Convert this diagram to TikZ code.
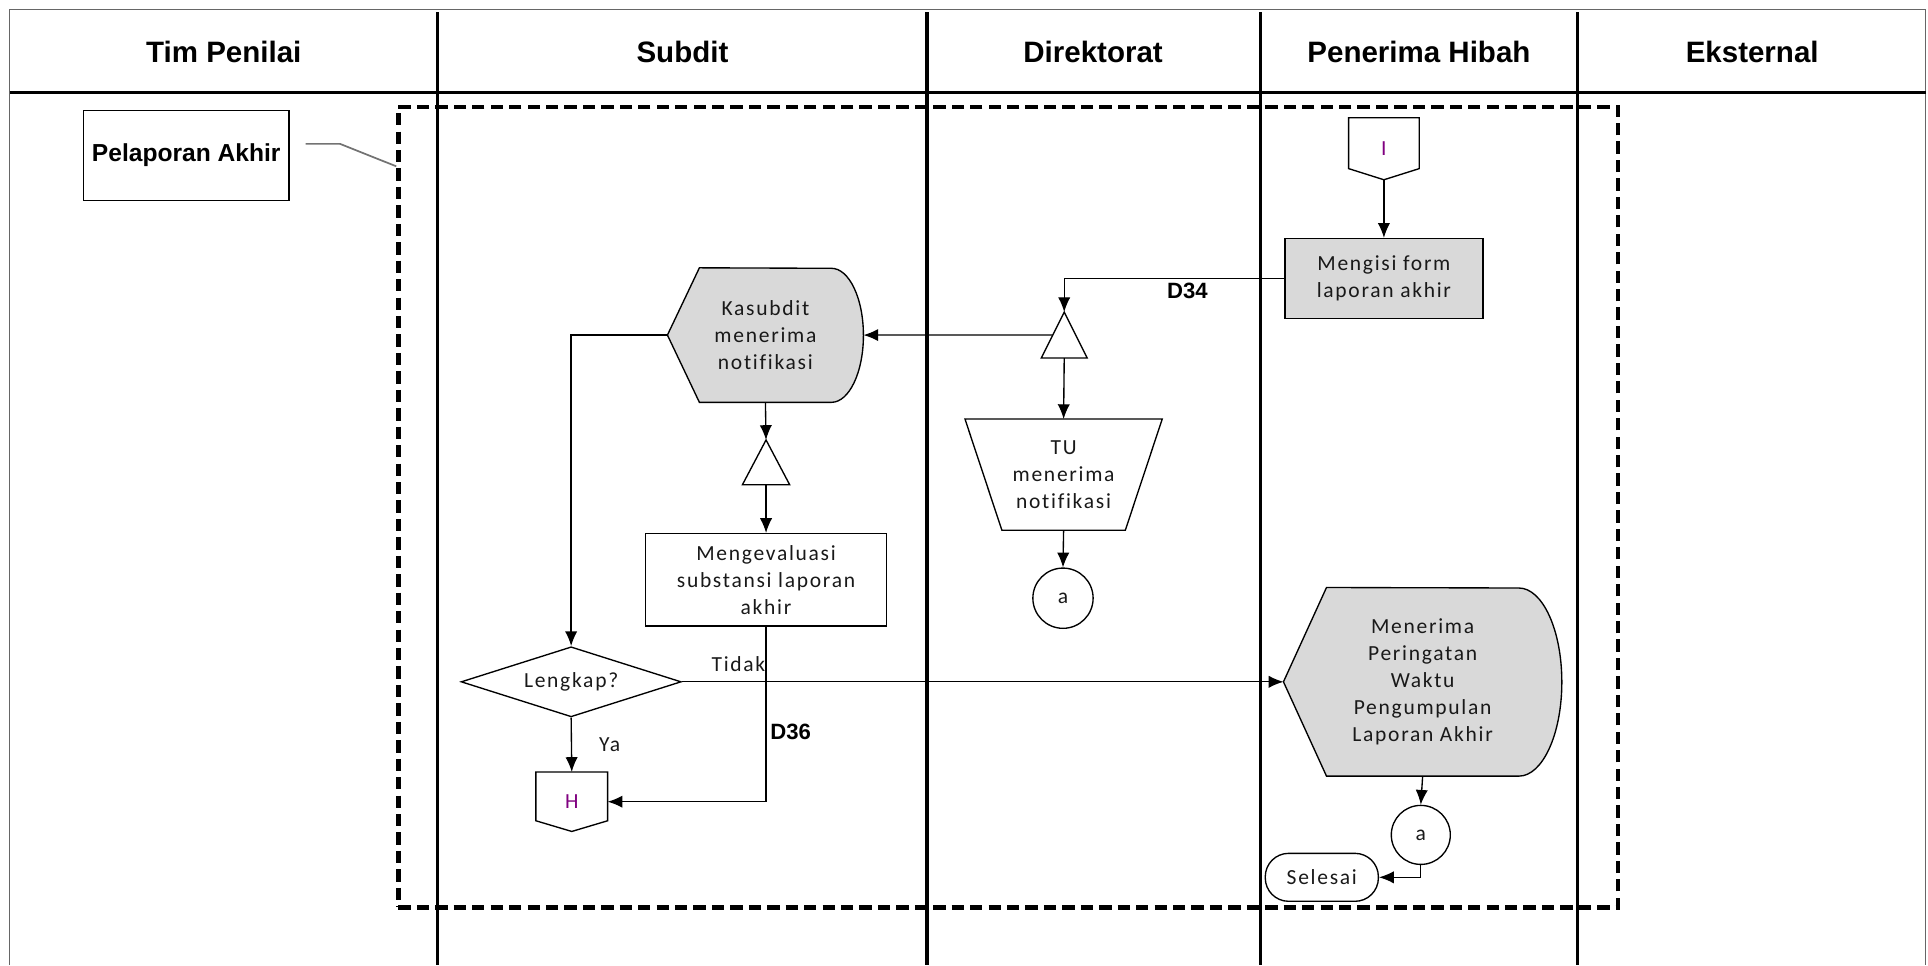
\documentclass[tikz,border=0pt]{standalone}
\usepackage{fontspec}
\newfontfamily\boxfont{Carlito}[LetterSpace=8, Ligatures=CommonOff]
\newfontfamily\hdrfont{Liberation Sans}
\usetikzlibrary{positioning, calc, shapes.geometric, arrows.meta, backgrounds}

\definecolor{boxgray}{HTML}{D9D9D9}

% outline helpers, drawn from the anchors of a plain node
\newcommand{\dispshape}[3]{%
  \filldraw[shapeline, fill=boxgray] ($(#1.north west)+(#2,0)$) -- (#1.west)
    -- ($(#1.south west)+(#2,0)$) -- ($(#1.south east)-(#2,0)$)
    arc[start angle=90, end angle=-90, x radius=#2, y radius=#3] -- cycle;}
\newcommand{\offpage}[1]{%
  \draw[shapeline] (#1.north west) -- (#1.north east)
    -- ($(#1.south east)!0.18!(#1.north east)$) -- (#1.south)
    -- ($(#1.south west)!0.18!(#1.north west)$) -- cycle;}
\newcommand{\mergetri}[1]{%
  \draw[shapeline] (#1.south west) -- (#1.north) -- (#1.south east) -- cycle;}
\newcommand{\manualop}[2]{%
  \draw[shapeline] (#1.north west) -- (#1.north east)
    -- ($(#1.south east)-(#2,0)$) -- ($(#1.south west)+(#2,0)$) -- cycle;}

\tikzset{
  lane/.style={line width=2.8pt},
  shapeline/.style={line width=1.1pt},
  hdr/.style={font=\hdrfont\bfseries\fontsize{24}{28}\selectfont},
  lbl/.style={font=\hdrfont\bfseries\fontsize{18}{20}\selectfont, inner sep=1pt},
  txt/.style={font=\boxfont\fontsize{17.5}{22}\selectfont, align=center, inner sep=0pt, text=black!90},
  proc/.style={txt, draw, line width=1.1pt},
  flow/.style={line width=1.1pt, ->},
}

\begin{document}
\begin{tikzpicture}[x=1pt, y=-1pt, >={Latex[length=12pt,width=10pt]}]
\useasboundingbox (0,0) rectangle (1568,785);

% swimlanes
\begin{scope}[on background layer]
  \draw[black!60, line width=1pt] (8,785) -- (8,8) -- (1566,8) -- (1566,785);
  \draw[lane] (8,75) -- (1566,75);
  \foreach \x in {356,754,1025,1283}
    \draw[lane] (\x,10) -- (\x,785);
\end{scope}

\node[hdr] (hTim) at (182,42) {Tim Penilai};
\node[hdr] (hSub) at (555,42) {Subdit};
\node[hdr] (hDir) at (889,42) {Direktorat};
\node[hdr] (hPen) at (1154,42) {Penerima Hibah};
\node[hdr] (hEks) at (1425,42) {Eksternal};

% group
\node[draw, line width=3.5pt, dash pattern=on 10pt off 5pt, minimum width=992pt, minimum height=651pt, inner sep=0pt] (grp) at (820,412.5) {};
\node[draw, line width=1pt, minimum width=167pt, minimum height=73pt, font=\hdrfont\bfseries\fontsize{20}{24}\selectfont] (lap) at (151.5,126.5) {Pelaporan Akhir};
\draw[black!55, line width=1.4pt] ([xshift=13pt,yshift=9.5pt]lap.east) -- ++(28,0) -- ([yshift=-50pt]grp.north west);

% Penerima Hibah
\node[txt, minimum width=57pt, minimum height=50pt, text=violet] (offI) at (1125.5,121) {I};
\node[proc, fill=boxgray, minimum width=161pt, minimum height=65pt] (form) at (1125.5,226.5) {Mengisi form\\laporan akhir};

% Direktorat
\node[minimum width=37pt, minimum height=37pt] (tri1) at (865.5,272.5) {};
\node[txt, minimum width=160pt, minimum height=90pt] (tu) at (865,386) {TU\\menerima\\notifikasi};
\node[proc, circle, minimum size=49pt] (ca1) at (864.5,486.5) {a};

% Subdit
\node[txt, minimum width=159pt, minimum height=109pt] (kas) at (622.5,272.5) {Kasubdit\\menerima\\notifikasi};
\node[minimum width=38pt, minimum height=36pt] (tri2) at (623,376) {};
\node[proc, minimum width=196pt, minimum height=75pt] (eval) at (623,471.5) {Mengevaluasi\\substansi laporan\\akhir};
\node[proc, diamond, aspect=3.1, minimum width=179pt, minimum height=57pt] (lkp) at (464.5,554.5) {Lengkap?};
\node[txt, minimum width=58pt, minimum height=48pt, text=violet] (offH) at (465,652) {H};

% Penerima Hibah, bottom
\node[txt, minimum width=226pt, minimum height=153pt] (men) at (1157,554.5) {Menerima\\Peringatan\\Waktu\\Pengumpulan\\Laporan Akhir};
\node[proc, circle, minimum size=48pt] (ca2) at (1155.5,679) {a};
\node[proc, rounded corners=19pt, minimum width=92pt, minimum height=39pt] (sls) at (1075,713.5) {Selesai};

\begin{scope}[on background layer]
  \offpage{offI}
  \offpage{offH}
  \mergetri{tri1}
  \mergetri{tri2}
  \manualop{tu}{30}
  \dispshape{kas}{26}{54.5}
  \dispshape{men}{35}{76.5}
\end{scope}

% connectors
\draw[flow] (offI.south) -- (form.north);
\draw[flow] (form.west) -| node[lbl, pos=0.22, below=2pt] {D34} (tri1.north);
\draw[flow] ($(tri1.south west)!0.5!(tri1.north)$) -- (kas.east);
\draw[flow] (tri1.south) -- (tu.north);
\draw[flow] (tu.south) -- (ca1.north);
\draw[flow] (kas.west) -| (lkp.north);
\draw[flow] (kas.south) -- (tri2.north);
\draw[flow] (tri2.south) -- (eval.north);
\draw[flow] (eval.south) |- node[lbl, pos=0.3, right=2pt] {D36} (offH.east);
\draw[flow] (lkp.south) -- node[txt, right=22pt] {Ya} (offH.north);
\draw[flow] (lkp.east) -- node[txt, pos=0.094, above=8pt] {Tidak} (men.west);
\draw[flow] (men.south) -- (ca2.north);
\draw[flow] (ca2.south) |- (sls.east);
\end{tikzpicture}
\end{document}
